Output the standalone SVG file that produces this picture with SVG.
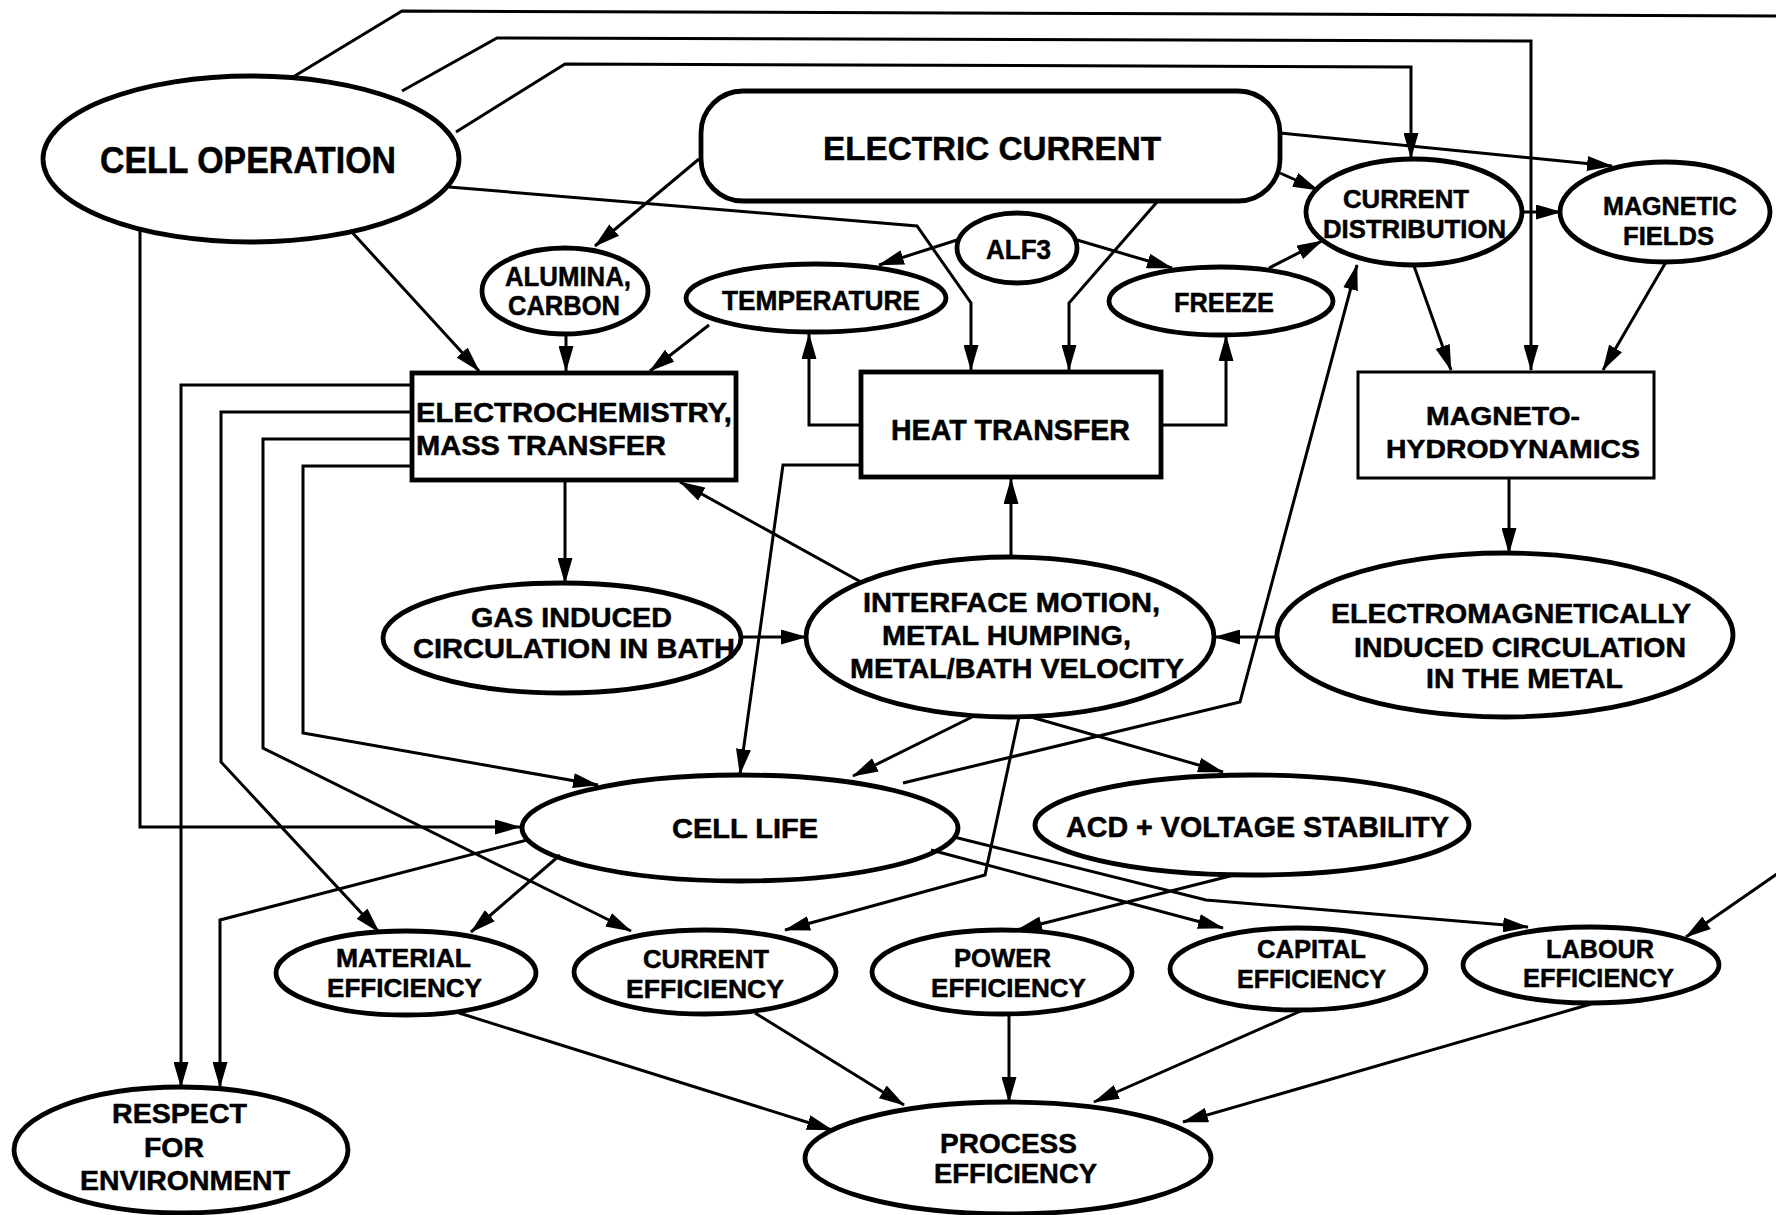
<svg xmlns="http://www.w3.org/2000/svg" width="1776" height="1215" viewBox="0 0 1776 1215">
  <style>
    .node ellipse, .node rect { fill: #fff; stroke: #000; stroke-width: 4.8; }
    .thin rect { stroke-width: 3; }
    .conn path { fill: none; stroke: #000; stroke-width: 3; stroke-linejoin: miter; }
    .conn path.arr { marker-end: url(#head); }
    text { font-family: "Liberation Sans", Arial, Helvetica, sans-serif; font-weight: bold; fill: #000; stroke: #000; stroke-width: 0.5; }
    .s26 { font-size: 26px; }
    .s28 { font-size: 28px; }
    .s30 { font-size: 30px; }
    .s34 { font-size: 34px; }
    .s36 { font-size: 36px; }
  </style>
  <defs>
    <marker id="head" markerUnits="userSpaceOnUse" markerWidth="26" markerHeight="15" viewBox="0 0 26 15" refX="25" refY="7.5" orient="auto">
      <path d="M0,0 L26,7.5 L0,15 z" fill="#000"/>
    </marker>
  </defs>
  <rect width="1776" height="1215" fill="#fff"/>

  <!-- nodes -->
  <g id="cell-operation" class="node">
    <ellipse cx="251" cy="159" rx="208" ry="83"/>
    <text class="s36" x="100" y="173" textLength="296" lengthAdjust="spacingAndGlyphs">CELL OPERATION</text>
  </g>
  <g id="electric-current" class="node">
    <rect x="701" y="91" width="579" height="110" rx="42" ry="42"/>
    <text class="s34" x="823" y="160" textLength="338" lengthAdjust="spacingAndGlyphs">ELECTRIC CURRENT</text>
  </g>
  <g id="alumina-carbon" class="node">
    <ellipse cx="565" cy="291" rx="83" ry="43"/>
    <text class="s28" x="505" y="286" textLength="126" lengthAdjust="spacingAndGlyphs">ALUMINA,</text>
    <text class="s28" x="508" y="315" textLength="112" lengthAdjust="spacingAndGlyphs">CARBON</text>
  </g>
  <g id="temperature" class="node">
    <ellipse cx="816" cy="298" rx="130" ry="34"/>
    <text class="s28" x="722" y="310" textLength="198" lengthAdjust="spacingAndGlyphs">TEMPERATURE</text>
  </g>
  <g id="alf3" class="node">
    <ellipse cx="1017" cy="248" rx="60" ry="35"/>
    <text class="s28" x="986" y="259" textLength="65" lengthAdjust="spacingAndGlyphs">ALF3</text>
  </g>
  <g id="freeze" class="node">
    <ellipse cx="1221" cy="301" rx="112" ry="34"/>
    <text class="s28" x="1174" y="312" textLength="100" lengthAdjust="spacingAndGlyphs">FREEZE</text>
  </g>
  <g id="current-distribution" class="node">
    <ellipse cx="1414" cy="212" rx="108" ry="53"/>
    <text class="s26" x="1343" y="208" textLength="126" lengthAdjust="spacingAndGlyphs">CURRENT</text>
    <text class="s26" x="1323" y="238" textLength="183" lengthAdjust="spacingAndGlyphs">DISTRIBUTION</text>
  </g>
  <g id="magnetic-fields" class="node">
    <ellipse cx="1665" cy="212" rx="105" ry="50"/>
    <text class="s26" x="1603" y="215" textLength="134" lengthAdjust="spacingAndGlyphs">MAGNETIC</text>
    <text class="s26" x="1623" y="245" textLength="91" lengthAdjust="spacingAndGlyphs">FIELDS</text>
  </g>
  <g id="electrochemistry" class="node">
    <rect x="412" y="373" width="324" height="107"/>
    <text class="s28" x="416" y="422" textLength="316" lengthAdjust="spacingAndGlyphs">ELECTROCHEMISTRY,</text>
    <text class="s28" x="416" y="455" textLength="250" lengthAdjust="spacingAndGlyphs">MASS TRANSFER</text>
  </g>
  <g id="heat-transfer" class="node">
    <rect x="861" y="372" width="300" height="105"/>
    <text class="s30" x="891" y="440" textLength="239" lengthAdjust="spacingAndGlyphs">HEAT TRANSFER</text>
  </g>
  <g id="magnetohydrodynamics" class="node thin">
    <rect x="1358" y="372" width="296" height="106"/>
    <text class="s26" x="1426" y="425" textLength="154" lengthAdjust="spacingAndGlyphs">MAGNETO-</text>
    <text class="s26" x="1386" y="458" textLength="254" lengthAdjust="spacingAndGlyphs">HYDRODYNAMICS</text>
  </g>
  <g id="gas-induced-circulation" class="node">
    <ellipse cx="562" cy="638" rx="179" ry="55"/>
    <text class="s28" x="471" y="627" textLength="201" lengthAdjust="spacingAndGlyphs">GAS INDUCED</text>
    <text class="s28" x="413" y="658" textLength="322" lengthAdjust="spacingAndGlyphs">CIRCULATION IN BATH</text>
  </g>
  <g id="interface-motion" class="node">
    <ellipse cx="1010" cy="637" rx="204" ry="80"/>
    <text class="s28" x="863" y="612" textLength="297" lengthAdjust="spacingAndGlyphs">INTERFACE MOTION,</text>
    <text class="s28" x="882" y="645" textLength="249" lengthAdjust="spacingAndGlyphs">METAL HUMPING,</text>
    <text class="s28" x="850" y="678" textLength="334" lengthAdjust="spacingAndGlyphs">METAL/BATH VELOCITY</text>
  </g>
  <g id="em-induced-circulation" class="node">
    <ellipse cx="1505" cy="635" rx="228" ry="82"/>
    <text class="s28" x="1331" y="623" textLength="360" lengthAdjust="spacingAndGlyphs">ELECTROMAGNETICALLY</text>
    <text class="s28" x="1354" y="657" textLength="332" lengthAdjust="spacingAndGlyphs">INDUCED CIRCULATION</text>
    <text class="s28" x="1426" y="688" textLength="197" lengthAdjust="spacingAndGlyphs">IN THE METAL</text>
  </g>
  <g id="cell-life" class="node">
    <ellipse cx="740" cy="828" rx="218" ry="53"/>
    <text class="s28" x="672" y="838" textLength="146" lengthAdjust="spacingAndGlyphs">CELL LIFE</text>
  </g>
  <g id="acd-voltage-stability" class="node">
    <ellipse cx="1252" cy="825" rx="217" ry="50"/>
    <text class="s30" x="1066" y="837" textLength="383" lengthAdjust="spacingAndGlyphs">ACD + VOLTAGE STABILITY</text>
  </g>
  <g id="material-efficiency" class="node">
    <ellipse cx="406" cy="973" rx="130" ry="42"/>
    <text class="s26" x="336" y="967" textLength="135" lengthAdjust="spacingAndGlyphs">MATERIAL</text>
    <text class="s26" x="327" y="997" textLength="155" lengthAdjust="spacingAndGlyphs">EFFICIENCY</text>
  </g>
  <g id="current-efficiency" class="node">
    <ellipse cx="705" cy="972" rx="131" ry="42"/>
    <text class="s26" x="643" y="968" textLength="126" lengthAdjust="spacingAndGlyphs">CURRENT</text>
    <text class="s26" x="626" y="998" textLength="158" lengthAdjust="spacingAndGlyphs">EFFICIENCY</text>
  </g>
  <g id="power-efficiency" class="node">
    <ellipse cx="1002" cy="972" rx="130" ry="42"/>
    <text class="s26" x="954" y="967" textLength="97" lengthAdjust="spacingAndGlyphs">POWER</text>
    <text class="s26" x="931" y="997" textLength="155" lengthAdjust="spacingAndGlyphs">EFFICIENCY</text>
  </g>
  <g id="capital-efficiency" class="node">
    <ellipse cx="1298" cy="969" rx="128" ry="41"/>
    <text class="s26" x="1257" y="958" textLength="109" lengthAdjust="spacingAndGlyphs">CAPITAL</text>
    <text class="s26" x="1237" y="988" textLength="149" lengthAdjust="spacingAndGlyphs">EFFICIENCY</text>
  </g>
  <g id="labour-efficiency" class="node">
    <ellipse cx="1591" cy="965" rx="128" ry="38"/>
    <text class="s26" x="1546" y="958" textLength="108" lengthAdjust="spacingAndGlyphs">LABOUR</text>
    <text class="s26" x="1523" y="987" textLength="151" lengthAdjust="spacingAndGlyphs">EFFICIENCY</text>
  </g>
  <g id="respect-for-environment" class="node">
    <ellipse cx="181" cy="1150" rx="167" ry="63"/>
    <text class="s28" x="112" y="1123" textLength="135" lengthAdjust="spacingAndGlyphs">RESPECT</text>
    <text class="s28" x="144" y="1157" textLength="60" lengthAdjust="spacingAndGlyphs">FOR</text>
    <text class="s28" x="80" y="1190" textLength="210" lengthAdjust="spacingAndGlyphs">ENVIRONMENT</text>
  </g>
  <g id="process-efficiency" class="node">
    <ellipse cx="1008" cy="1158" rx="203" ry="56"/>
    <text class="s28" x="940" y="1153" textLength="137" lengthAdjust="spacingAndGlyphs">PROCESS</text>
    <text class="s28" x="934" y="1183" textLength="163" lengthAdjust="spacingAndGlyphs">EFFICIENCY</text>
  </g>

  <!-- connectors -->
  <g id="connectors" class="conn">
    <!-- long routes over the top from cell operation -->
    <path class="arr" d="M293,77 L402,11 L1800,16 L1800,858 L1686,937"/>
    <path class="arr" d="M402,91 L497,38 L1531,41 L1531,370"/>
    <path class="arr" d="M456,132 L565,64 L1411,67 L1411,158"/>
    <path class="arr" d="M449,187 L917,226 L971,303 L971,370"/>
    <path class="arr" d="M350,230 L479,371"/>
    <path class="arr" d="M140,229 L140,827 L520,827"/>
    <!-- electric current and upper row -->
    <path class="arr" d="M699,159 L595,246"/>
    <path class="arr" d="M566,334 L566,371"/>
    <path class="arr" d="M709,325 L650,371"/>
    <path class="arr" d="M861,425 L809,425 L809,334"/>
    <path class="arr" d="M1161,425 L1226,425 L1226,336"/>
    <path class="arr" d="M957,240 L879,265"/>
    <path class="arr" d="M1077,240 L1172,268"/>
    <path class="arr" d="M1269,268 L1322,241"/>
    <path class="arr" d="M1157,202 L1069,303 L1069,370"/>
    <path class="arr" d="M1280,173 L1318,190"/>
    <path class="arr" d="M1280,133 L1612,166"/>
    <path class="arr" d="M1523,212 L1561,212"/>
    <path class="arr" d="M1414,266 L1451,370"/>
    <path class="arr" d="M1666,262 L1603,370"/>
    <!-- middle band -->
    <path class="arr" d="M1509,478 L1509,553"/>
    <path class="arr" d="M1277,637 L1215,637"/>
    <path class="arr" d="M741,637 L806,637"/>
    <path class="arr" d="M565,480 L565,583"/>
    <path class="arr" d="M1011,557 L1011,479"/>
    <path class="arr" d="M861,582 L680,482"/>
    <!-- electrochemistry fan-out on the left -->
    <path class="arr" d="M412,385 L181,385 L181,1087"/>
    <path class="arr" d="M412,412 L221,412 L221,762 L379,932"/>
    <path class="arr" d="M412,439 L263,439 L263,748 L631,931"/>
    <path class="arr" d="M412,466 L303,466 L303,733 L598,785"/>
    <path class="arr" d="M861,465 L783,465 L740,774"/>
    <!-- interface motion outputs -->
    <path class="arr" d="M974,716 L853,776"/>
    <path class="arr" d="M1031,717 L1223,772"/>
    <path class="arr" d="M1019,717 L985,875 L785,930"/>
    <!-- cell life outputs -->
    <path class="arr" d="M903,783 L1240,702 L1357,265"/>
    <path class="arr" d="M560,855 L471,932"/>
    <path class="arr" d="M527,840 L220,920 L220,1087"/>
    <path class="arr" d="M931,850 L1223,928"/>
    <path class="arr" d="M954,837 L1206,900 L1528,927"/>
    <path class="arr" d="M1234,875 L1017,930"/>
    <!-- efficiencies into process efficiency -->
    <path class="arr" d="M459,1013 L832,1130"/>
    <path class="arr" d="M755,1013 L904,1105"/>
    <path class="arr" d="M1009,1015 L1009,1102"/>
    <path class="arr" d="M1303,1010 L1094,1102"/>
    <path class="arr" d="M1591,1004 L1183,1122"/>
  </g>
</svg>
